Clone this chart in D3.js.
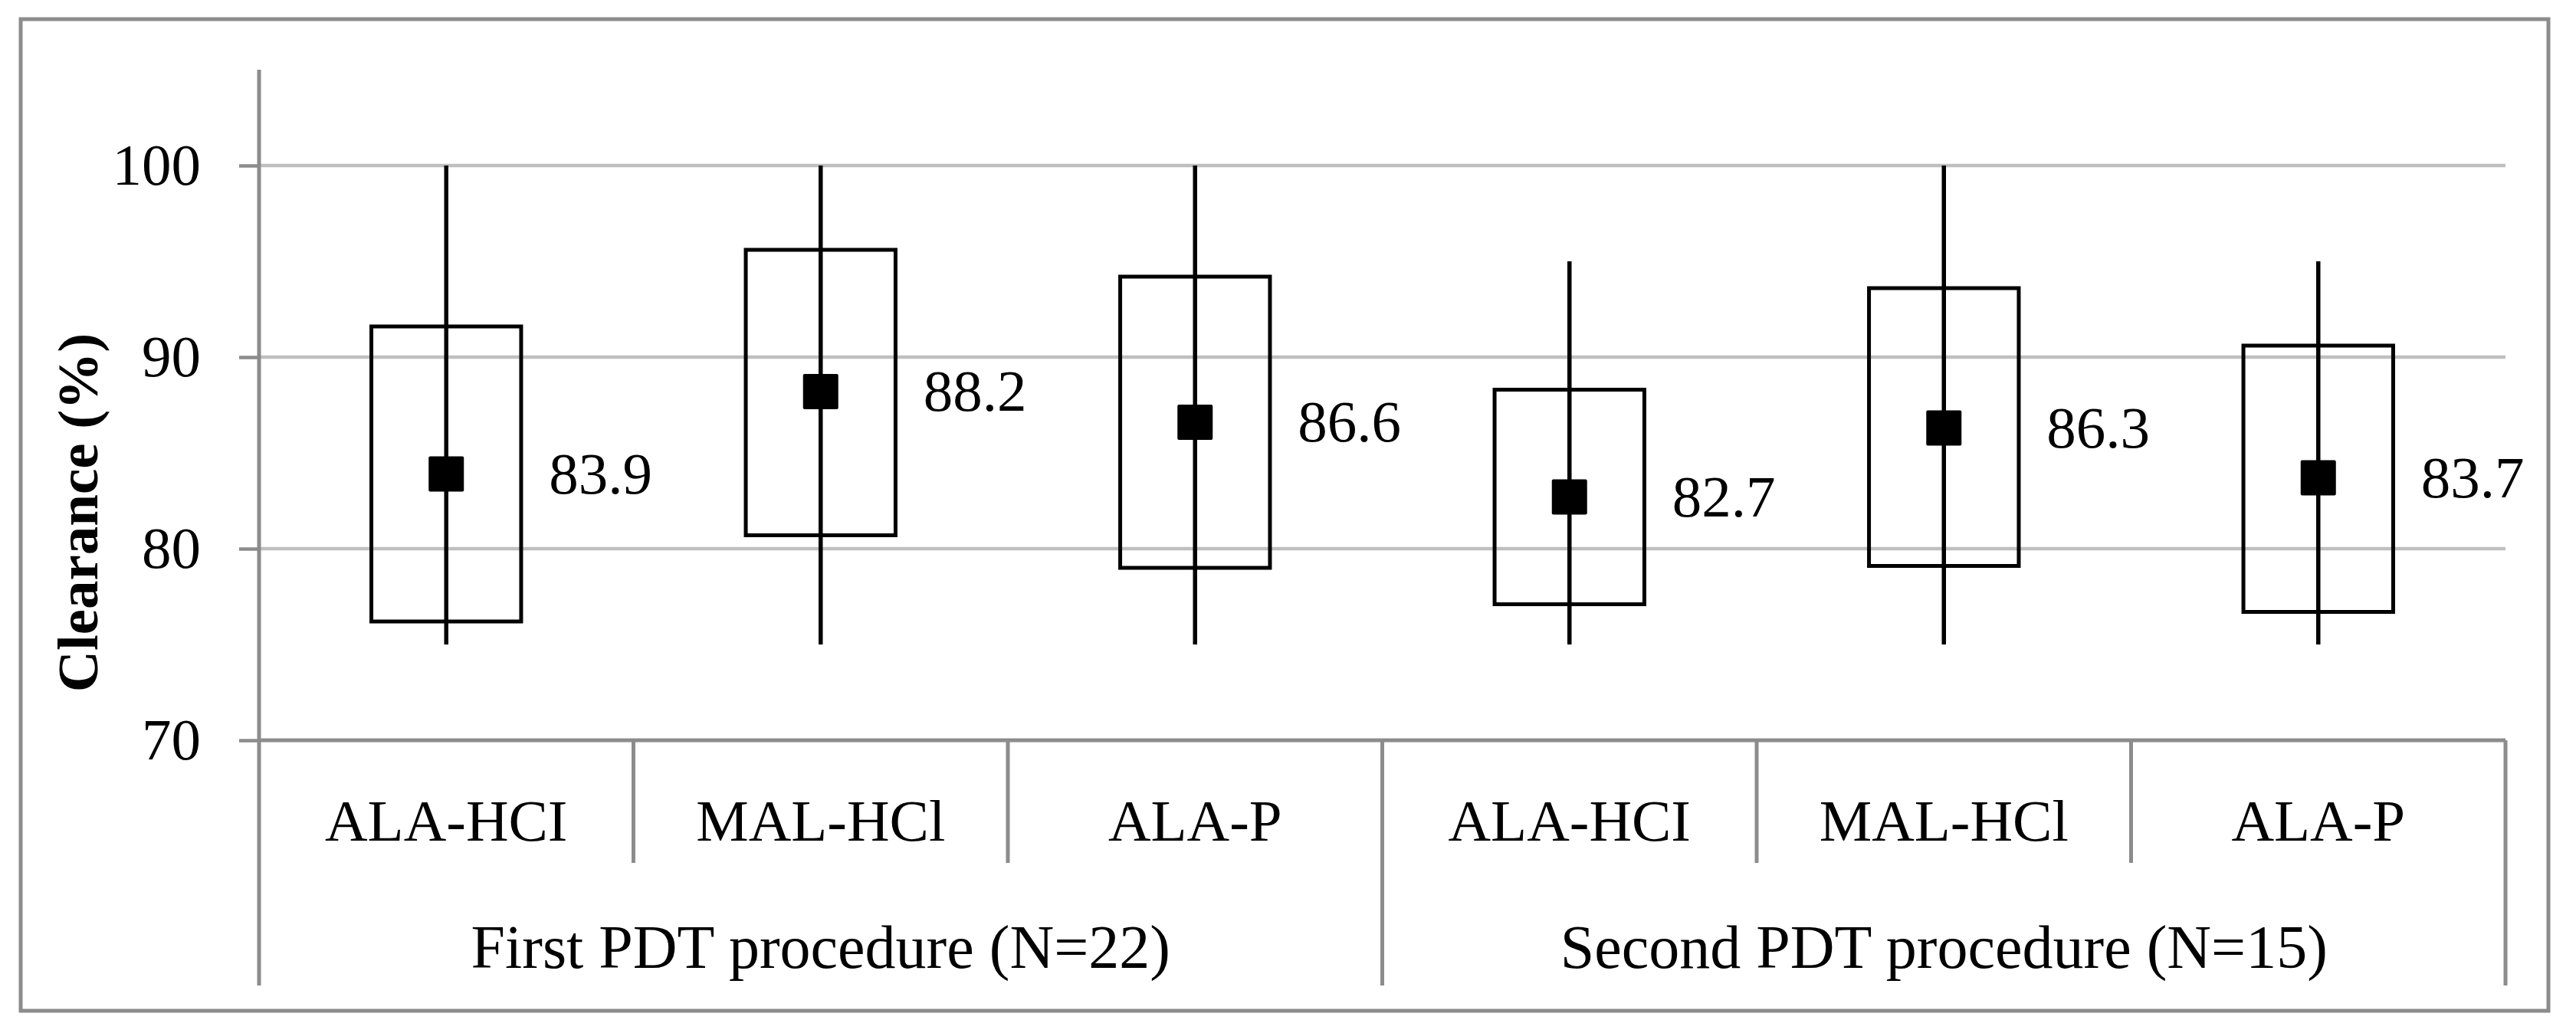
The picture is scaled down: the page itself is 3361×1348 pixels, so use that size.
<!DOCTYPE html>
<html>
<head>
<meta charset="utf-8">
<script src="https://cdn.jsdelivr.net/npm/d3@7"></script>
<style>
  body { margin: 0; background: #fff; }
  text { font-family: "Palatino Linotype", "Book Antiqua", Palatino, "Liberation Serif", serif; }
</style>
</head>
<body>
<div id="chart"></div>
<script>
// Data
var categories = ["ALA-HCI", "MAL-HCl", "ALA-P", "ALA-HCI", "MAL-HCl", "ALA-P"];
var groups = ["First PDT procedure (N=22)", "Second PDT procedure (N=15)"];
var means = [83.9, 88.2, 86.6, 82.7, 86.3, 83.7];
var boxLow = [76.2, 80.7, 79.0, 77.1, 79.1, 76.7];
var boxHigh = [91.6, 95.6, 94.2, 88.3, 93.6, 90.6];
var whiskerLow = [75, 75, 75, 75, 75, 75];
var whiskerHigh = [100, 100, 100, 95, 100, 95];
var yTicks = [70, 80, 90, 100];

// Canvas
var width = 3361, height = 1348;
var plot = {left: 338, right: 3269, top: 91, bottom: 966};
var catRowEnd = 1126, groupRowEnd = 1286;
var axisGrey = "#8c8c8c", gridGrey = "#bfbfbf";
var fontSize = 77;

var svg = d3.select("#chart").append("svg")
    .attr("width", width)
    .attr("height", height);

// Outer border
svg.append("rect")
    .attr("x", 27).attr("y", 25)
    .attr("width", 3325 - 27).attr("height", 1319 - 25)
    .attr("fill", "none")
    .attr("stroke", axisGrey)
    .attr("stroke-width", 5);

// Scales
var idx = categories.map(function(d, i) { return i; });
var x = d3.scaleBand()
    .domain(idx)
    .range([plot.left, plot.right]);

var xGroup = d3.scaleBand()
    .domain([0, 1])
    .range([plot.left, plot.right]);

var y = d3.scaleLinear()
    .domain([70, 105])
    .range([plot.bottom, plot.top]);

// Horizontal grid lines
svg.selectAll("line.grid").data(yTicks.filter(function(d) { return d > 70; })).enter()
  .append("line")
    .attr("class", "grid")
    .attr("x1", plot.left).attr("x2", plot.right)
    .attr("y1", function(d) { return y(d); })
    .attr("y2", function(d) { return y(d); })
    .attr("stroke", gridGrey)
    .attr("stroke-width", 4.5);

// Left axis with ticks and labels
var yAxis = svg.append("g")
    .attr("transform", "translate(" + plot.left + ",0)")
    .call(d3.axisLeft(y).tickValues(yTicks).tickSize(26).tickPadding(50));
yAxis.select(".domain").remove();
yAxis.selectAll(".tick line").attr("stroke", axisGrey).attr("stroke-width", 4.5);
yAxis.selectAll(".tick text")
    .attr("fill", "#000")
    .style("font-size", fontSize + "px")
    .style("font-family", "'Palatino Linotype', 'Book Antiqua', Palatino, 'Liberation Serif', serif");

// Vertical axis line running down through the category rows
svg.append("line")
    .attr("x1", plot.left).attr("x2", plot.left)
    .attr("y1", plot.top).attr("y2", groupRowEnd)
    .attr("stroke", axisGrey).attr("stroke-width", 5);

// Bottom axis line
svg.append("line")
    .attr("x1", plot.left).attr("x2", plot.right)
    .attr("y1", plot.bottom).attr("y2", plot.bottom)
    .attr("stroke", axisGrey).attr("stroke-width", 5);

// Separators between categories (short) and groups (long)
var bounds = idx.slice(1).concat([categories.length]);
svg.selectAll("line.sep").data(bounds).enter()
  .append("line")
    .attr("class", "sep")
    .attr("x1", function(d) { return plot.left + d * x.bandwidth(); })
    .attr("x2", function(d) { return plot.left + d * x.bandwidth(); })
    .attr("y1", plot.bottom)
    .attr("y2", function(d) { return d % 3 === 0 ? groupRowEnd : catRowEnd; })
    .attr("stroke", axisGrey)
    .attr("stroke-width", 5);

// Category labels
svg.selectAll("text.cat").data(categories).enter()
  .append("text")
    .attr("class", "cat")
    .attr("x", function(d, i) { return x(i) + x.bandwidth() / 2; })
    .attr("y", 1097)
    .attr("text-anchor", "middle")
    .style("font-size", fontSize + "px")
    .text(function(d) { return d; });

// Group labels
svg.selectAll("text.group").data(groups).enter()
  .append("text")
    .attr("class", "group")
    .attr("x", function(d, i) { return xGroup(i) + xGroup.bandwidth() / 2; })
    .attr("y", 1263)
    .attr("text-anchor", "middle")
    .style("font-size", "80px")
    .text(function(d) { return d; });

// Y axis title
svg.append("text")
    .attr("transform", "translate(127,669) rotate(-90)")
    .attr("text-anchor", "middle")
    .style("font-size", "75px")
    .style("font-weight", "bold")
    .text("Clearance (%)");

// Boxes
var boxW = x.bandwidth() * 0.4;
svg.selectAll("rect.box").data(idx).enter()
  .append("rect")
    .attr("class", "box")
    .attr("x", function(i) { return x(i) + x.bandwidth() / 2 - boxW / 2; })
    .attr("width", boxW)
    .attr("y", function(i) { return y(boxHigh[i]); })
    .attr("height", function(i) { return y(boxLow[i]) - y(boxHigh[i]); })
    .attr("fill", "none")
    .attr("stroke", "#000")
    .attr("stroke-width", 5);

// Whiskers
svg.selectAll("line.whisker").data(idx).enter()
  .append("line")
    .attr("class", "whisker")
    .attr("x1", function(i) { return x(i) + x.bandwidth() / 2; })
    .attr("x2", function(i) { return x(i) + x.bandwidth() / 2; })
    .attr("y1", function(i) { return y(whiskerHigh[i]); })
    .attr("y2", function(i) { return y(whiskerLow[i]); })
    .attr("stroke", "#000")
    .attr("stroke-width", 5.5);

// Mean markers
var m = 46;
svg.selectAll("rect.mean").data(idx).enter()
  .append("rect")
    .attr("class", "mean")
    .attr("x", function(i) { return x(i) + x.bandwidth() / 2 - m / 2; })
    .attr("y", function(i) { return y(means[i]) - m / 2; })
    .attr("width", m).attr("height", m)
    .attr("rx", 2)
    .attr("fill", "#000");

// Mean value labels
svg.selectAll("text.val").data(idx).enter()
  .append("text")
    .attr("class", "val")
    .attr("x", function(i) { return x(i) + x.bandwidth() / 2 + 134; })
    .attr("y", function(i) { return y(means[i]) + 25; })
    .style("font-size", fontSize + "px")
    .text(function(i) { return means[i].toFixed(1); });
</script>
</body>
</html>
